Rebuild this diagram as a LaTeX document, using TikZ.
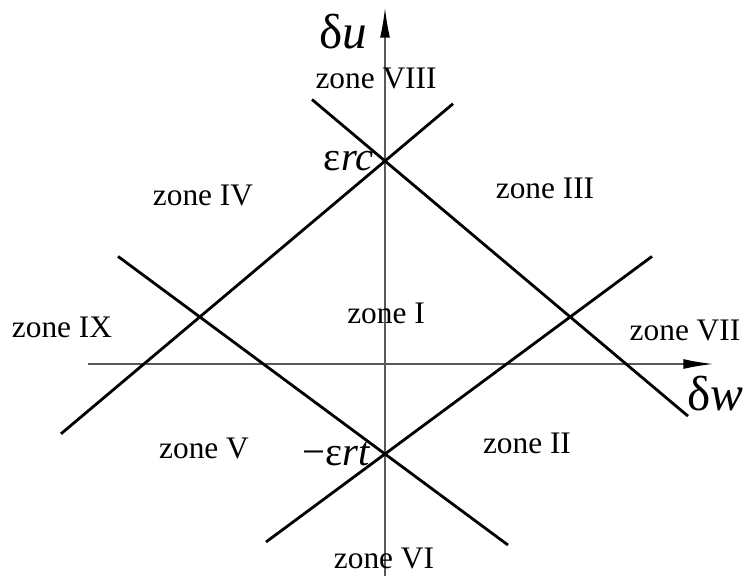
\documentclass[tikz,border=0pt]{standalone}
\usepackage{fontspec}
\setmainfont{Liberation Serif}
\usetikzlibrary{arrows.meta,calc}

\begin{document}
\begin{tikzpicture}[
    >={Latex[length=21pt,width=7pt,color=black]},
    axis/.style={->,gray!70!black,line width=0.9pt},
    bound/.style={line width=2pt},
    zone/.style={font=\fontsize{22.3}{26}\selectfont},
    axlabel/.style={font=\fontsize{35}{40}\selectfont},
    cut/.style={font=\fontsize{29}{33}\selectfont,inner sep=2pt},
]

\useasboundingbox (-9.625,-5.3) rectangle (8.975,9.1);

% =====================================================
% Axes
% =====================================================

\coordinate (O) at (0,0);
\coordinate (ubot) at (0,-5.3);
\coordinate (utop) at (0,8.9);
\coordinate (wleft) at (-7.425,0);
\coordinate (wright) at (8.2,0);

\draw[axis] (ubot) -- (utop);
\draw[axis] (wleft) -- (wright);

\node[axlabel] (du) at (-1.05,8.3) {δ\textit{u}};
\node[axlabel] (dw) at (8.25,-0.75) {δ\textit{w}};

% =====================================================
% Boundary lines through the two limits
% =====================================================

\coordinate (rc) at (0,5.075);
\coordinate (rt) at (0,-2.25);

\draw[bound]
    ($(rc)+(-1.825,1.537)$)
    --
    ($(rc)+(7.575,-6.378)$);

\draw[bound]
    ($(rc)+(1.7,1.431)$)
    --
    ($(rc)+(-8.1,-6.82)$);

\draw[bound]
    ($(rt)+(6.675,4.94)$)
    --
    ($(rt)+(-2.975,-2.2)$);

\draw[bound]
    ($(rt)+(-6.675,4.94)$)
    --
    ($(rt)+(3.075,-2.276)$);

\node[cut,anchor=east,xshift=-6pt] (rclabel) at (rc) {ε\textit{rc}};
\node[cut,anchor=east,xshift=-8pt] (rtlabel) at (rt) {−ε\textit{rt}};

% =====================================================
% Zones
% =====================================================

\node[zone] (z8) at (-0.225,7.15) {zone VIII};
\node[zone] (z4) at (-4.55,4.225) {zone IV};
\node[zone] (z3) at (4.0,4.4) {zone III};
\node[zone] (z9) at (-8.075,0.925) {zone IX};
\node[zone] (z1) at (0.025,1.275) {zone I};
\node[zone] (z7) at (7.5,0.85) {zone VII};
\node[zone] (z5) at (-4.525,-2.1) {zone V};
\node[zone] (z2) at (3.55,-1.975) {zone II};
\node[zone] (z6) at (-0.025,-4.85) {zone VI};

\end{tikzpicture}
\end{document}
